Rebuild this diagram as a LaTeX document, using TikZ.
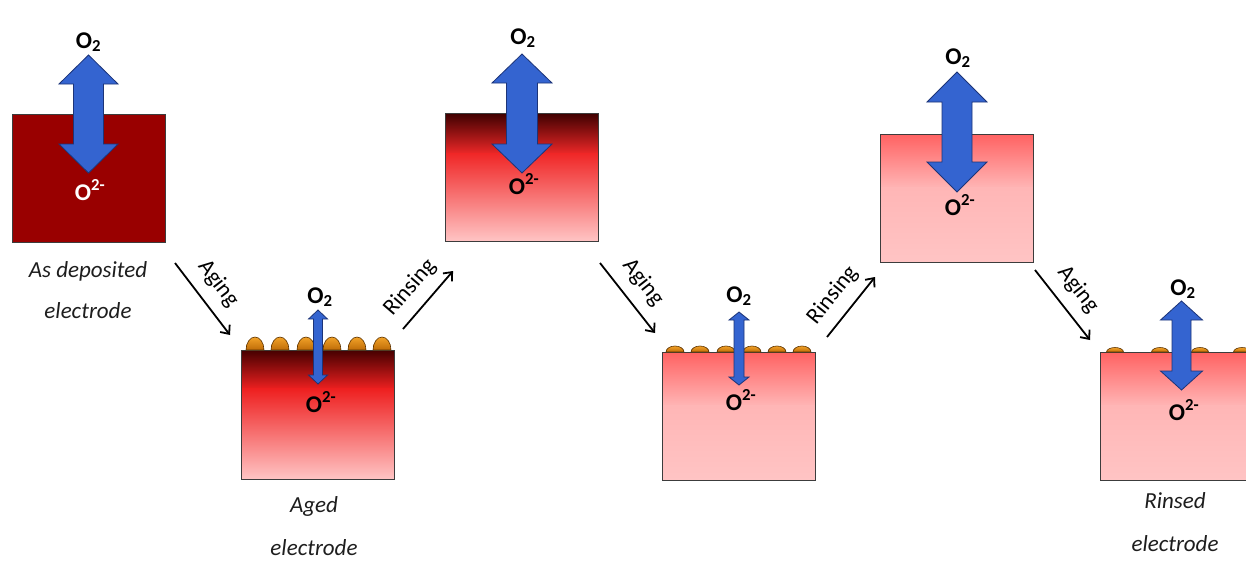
\documentclass[tikz,border=0pt]{standalone}
\usepackage{fontspec}
\setmainfont{Carlito}
\usetikzlibrary{arrows.meta,fit}

% palette
\definecolor{deposited}{RGB}{153,0,0}
\definecolor{oxblue}{RGB}{52,100,208}
\definecolor{oxedge}{RGB}{28,52,120}
\definecolor{bumptop}{RGB}{242,162,40}
\definecolor{bumpbot}{RGB}{190,108,8}
\definecolor{bumpedge}{RGB}{92,50,0}
\definecolor{frameline}{RGB}{60,60,60}
\definecolor{captext}{RGB}{30,30,30}
% aged film: dark surface fading to pink
\definecolor{agedA}{RGB}{70,0,0}
\definecolor{agedB}{RGB}{238,32,32}
\definecolor{rinseA}{RGB}{62,0,0}
\definecolor{rinseB}{RGB}{240,40,40}
\definecolor{pinkA}{RGB}{255,98,98}
\definecolor{pinkB}{RGB}{255,182,182}
\definecolor{pinkC}{RGB}{255,196,196}

% electrode block with a two-stage vertical gradient:
% name, x1, y1, x2, y2, top colour, split fraction, middle colour, bottom colour
\newcommand\gradelectrode[9]{%
  \shade[top color=#6, bottom color=#8] (#2,#3) rectangle (#4,{#3+#7*(#5-#3)+0.6});
  \shade[top color=#8, bottom color=#9] (#2,{#3+#7*(#5-#3)}) rectangle (#4,#5);
  \node[boxline, fit={(#2,#3) (#4,#5)}] (#1) {};
}
% two-headed oxygen exchange arrow:
% centre x, top tip, bottom tip, head length, head half-width, shaft half-width
\newcommand\oxflux[6]{%
  \draw[oxarrow] (#1,#2) -- ({#1+#5},{#2+#4}) -- ({#1+#6},{#2+#4})
    -- ({#1+#6},{#3-#4}) -- ({#1+#5},{#3-#4}) -- (#1,#3)
    -- ({#1-#5},{#3-#4}) -- ({#1-#6},{#3-#4}) -- ({#1-#6},{#2+#4})
    -- ({#1-#5},{#2+#4}) -- cycle;}
% surface particle: centre x, base y, x radius, y radius
\newcommand\particle[4]{%
  \draw[bump] ({#1-#3},#2) arc[start angle=180, end angle=0, x radius=#3pt, y radius=#4pt] -- cycle;}

\begin{document}
\begin{tikzpicture}[x=1pt, y=-1pt,
  boxline/.style={draw=frameline, line width=0.8pt, inner sep=0pt},
  oxarrow/.style={fill=oxblue, draw=oxedge, line width=0.8pt, line join=miter},
  bump/.style={draw=bumpedge, line width=0.6pt, top color=bumptop, bottom color=bumpbot},
  species/.style={font=\bfseries\fontsize{24}{28}\selectfont, anchor=base, inner sep=0pt},
  caption/.style={font=\itshape\fontsize{23}{28}\selectfont, anchor=base, inner sep=0pt, text=captext},
  stepline/.style={line width=1.8pt, -{Straight Barb[length=7pt, width=12pt, line width=1.8pt]}},
  steplabel/.style={font=\fontsize{23}{26}\selectfont, pos=0.47, sloped, above=11pt, inner sep=0pt}
]
\clip (0,0) rectangle (1246,579);
\fill[white] (0,0) rectangle (1246,579);

% ---- electrodes
\fill[deposited] (12,114) rectangle (165,242);
\node[boxline, fit={(12,114) (165,242)}] (b1) {};
\gradelectrode{b2}{241}{350}{394}{479}{agedA}{0.30}{agedB}{pinkC}
\gradelectrode{b3}{445}{113}{598}{241}{rinseA}{0.32}{rinseB}{pinkC}
\gradelectrode{b4}{662}{352}{815}{480}{pinkA}{0.42}{pinkB}{pinkC}
\gradelectrode{b5}{880}{134}{1033}{262}{pinkA}{0.42}{pinkB}{pinkC}
\gradelectrode{b6}{1100}{352}{1253}{480}{pinkA}{0.42}{pinkB}{pinkC}

% ---- surface particles
\foreach \cx in {255,280,306,332,357,382} {\particle{\cx}{350}{9}{13}}
\foreach \cx in {675,700,726,752,777,802} {\particle{\cx}{352}{9}{6}}
\foreach \cx in {1115,1160,1200,1242} {\particle{\cx}{352}{8.5}{4.5}}

% ---- oxygen exchange arrows
\oxflux{88.5}{55}{173}{29}{29.5}{15}
\oxflux{318}{310}{384}{9}{9.5}{4.5}
\oxflux{522}{54}{173}{29}{30}{15.5}
\oxflux{739}{312}{385}{8}{10}{5}
\oxflux{957}{72}{192}{30}{30}{15}
\oxflux{1181.5}{301}{390}{19}{21}{9.5}

% ---- species
\node[species] (o2a) at (88.5,48) {O\textsubscript{2}};
\node[species, text=white] (oxa) at (90,200) {O\textsuperscript{2-}};
\node[species] (o2b) at (320,303) {O\textsubscript{2}};
\node[species] (oxb) at (321,412) {O\textsuperscript{2-}};
\node[species] (o2c) at (523,44) {O\textsubscript{2}};
\node[species] (oxc) at (524,194) {O\textsuperscript{2-}};
\node[species] (o2d) at (739,302) {O\textsubscript{2}};
\node[species] (oxd) at (741,410) {O\textsuperscript{2-}};
\node[species] (o2e) at (958,64) {O\textsubscript{2}};
\node[species] (oxe) at (960,215) {O\textsuperscript{2-}};
\node[species] (o2f) at (1183,295) {O\textsubscript{2}};
\node[species] (oxf) at (1184,420) {O\textsuperscript{2-}};

% ---- captions
\node[caption] (c1a) at (88,277) {As deposited};
\node[caption] (c1b) at (88,318) {electrode};
\node[caption] (c2a) at (314,512) {Aged};
\node[caption] (c2b) at (314,555) {electrode};
\node[caption] (c6a) at (1175,508) {Rinsed};
\node[caption] (c6b) at (1175,551) {electrode};

% ---- process steps
\coordinate (a1s) at (175,263);  \coordinate (a1e) at (230,335);
\coordinate (r1s) at (403,329);  \coordinate (r1e) at (453,271);
\coordinate (a2s) at (600,263);  \coordinate (a2e) at (655,333);
\coordinate (r2s) at (827,337);  \coordinate (r2e) at (875,277);
\coordinate (a3s) at (1035,270); \coordinate (a3e) at (1090,340);
\draw[stepline] (a1s) -- node[steplabel] (l1) {Aging} (a1e);
\draw[stepline] (r1s) -- node[steplabel] (l2) {Rinsing} (r1e);
\draw[stepline] (a2s) -- node[steplabel] (l3) {Aging} (a2e);
\draw[stepline] (r2s) -- node[steplabel] (l4) {Rinsing} (r2e);
\draw[stepline] (a3s) -- node[steplabel] (l5) {Aging} (a3e);
\end{tikzpicture}
\end{document}
